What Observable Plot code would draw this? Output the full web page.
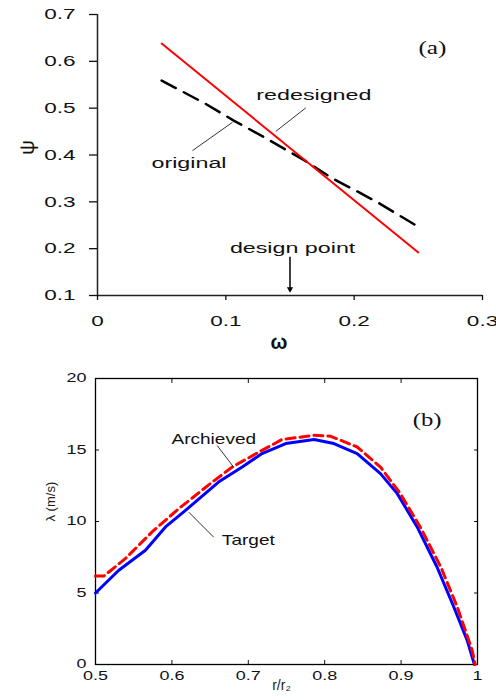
<!DOCTYPE html>
<html><head><meta charset="utf-8">
<script src="https://cdn.jsdelivr.net/npm/d3@7"></script>
<script src="https://cdn.jsdelivr.net/npm/@observablehq/plot@0.6"></script>
<style>
body{margin:0;background:#fff;}
#wrap{position:relative;width:496px;height:700px;overflow:hidden;background:#fff;}
#wrap svg{position:absolute;left:0;}
</style></head><body><div id="wrap"></div>
<script>
// ---------- Panel (a) data ----------
const omegaRedesigned = [0.05, 0.25];
const psiRedesigned = [0.638, 0.192];
const omegaOriginal = [0.05, 0.0844, 0.1065, 0.1298, 0.161, 0.1818, 0.2039, 0.2182, 0.2486];
const psiOriginal = [0.559, 0.509, 0.473, 0.438, 0.389, 0.352, 0.320, 0.299, 0.249];
const aXTicks = [0, 0.1, 0.2, 0.3];
const aYTicks = [0.1, 0.2, 0.3, 0.4, 0.5, 0.6, 0.7];
const aNotes = [
  {x: 0.1686, y: 0.527, text: "redesigned"},
  {x: 0.0713, y: 0.383, text: "original"},
  {x: 0.152, y: 0.2013, text: "design point"}
];
const aLeaders = [
  {x1: 0.1623, y1: 0.5006, x2: 0.139, y2: 0.4506},
  {x1: 0.1052, y1: 0.4698, x2: 0.074, y2: 0.4093}
];
const aArrow = [{x: 0.15, y1: 0.183, y2: 0.112, yHead: 0.1137}];
const aTag = [{x: 0.261, y: 0.627, text: "(a)"}];

// ---------- Panel (b) data ----------
const rTarget = [0.5, 0.5305, 0.5654, 0.5916, 0.6178, 0.661, 0.692, 0.718, 0.749, 0.786, 0.812, 0.8425, 0.873, 0.895, 0.921, 0.947, 0.969, 0.9865, 0.996];
const lambdaTarget = [5.0, 6.59, 7.99, 9.62, 10.78, 12.76, 13.81, 14.75, 15.45, 15.73, 15.45, 14.75, 13.35, 11.95, 9.62, 6.82, 4.02, 1.69, 0];
const rAchieved = [0.5, 0.511, 0.539, 0.574, 0.609, 0.653, 0.679, 0.714, 0.744, 0.786, 0.808, 0.8425, 0.873, 0.899, 0.925, 0.952, 0.9735, 0.993, 0.997];
const lambdaAchieved = [6.19, 6.19, 7.4, 9.27, 10.9, 12.76, 13.81, 14.86, 15.73, 16.03, 15.96, 15.21, 13.81, 11.95, 9.62, 6.82, 4.02, 1.0, 0];
const bXTicks = [0.5, 0.6, 0.7, 0.8, 0.9, 1];
const bYTicks = [0, 5, 10, 15, 20];
const bNotes = [
  {x: 0.6548, y: 15.75, text: "Archieved"},
  {x: 0.7, y: 8.65, text: "Target"}
];
const bLeaders = [
  {x1: 0.6593, y1: 15.31, x2: 0.681, y2: 13.79},
  {x1: 0.6548, y1: 8.90, x2: 0.6221, y2: 10.65}
];
const bTag = [{x: 0.934, y: 17.1, text: "(b)"}];

const sans = "'Liberation Sans', Arial, Helvetica, sans-serif";
const serif = "'Liberation Serif', 'Times New Roman', serif";
const plain = d => `${d}`;

const redData = omegaRedesigned.map((x, i) => ({x, y: psiRedesigned[i]}));
const origData = omegaOriginal.map((x, i) => ({x, y: psiOriginal[i]}));
const targetData = rTarget.map((x, i) => ({x, y: lambdaTarget[i]}));
const achievedData = rAchieved.map((x, i) => ({x, y: lambdaAchieved[i]}));

const svgA = Plot.plot({
  width: 496, height: 360,
  marginLeft: 97, marginRight: 14, marginTop: 14, marginBottom: 65,
  x: {domain: [0, 0.3]},
  y: {domain: [0.1, 0.7]},
  style: {fontFamily: sans, fontSize: "15px", background: "#fff", overflow: "visible", color: "#111"},
  marks: [
    Plot.ruleX([0], {stroke: "#222", strokeWidth: 1.5}),
    Plot.ruleY([0.1], {stroke: "#222", strokeWidth: 1.5}),
    Plot.axisX({ticks: aXTicks, tickFormat: plain, tickSize: 5, tickPadding: 15, fontSize: 15, label: null, strokeWidth: 1.3}),
    Plot.axisY({ticks: aYTicks, tickFormat: plain, tickSize: 8, tickPadding: 14, fontSize: 15, label: null, strokeWidth: 1.3}),
    Plot.line(origData, {x: "x", y: "y", stroke: "black", strokeWidth: 2.5, strokeDasharray: "16,9"}),
    Plot.line(redData, {x: "x", y: "y", stroke: "#ff0000", strokeWidth: 2}),
    Plot.link(aLeaders, {x1: "x1", y1: "y1", x2: "x2", y2: "y2", stroke: "black", strokeWidth: 0.8}),
    Plot.text(aNotes, {x: "x", y: "y", text: "text", fontSize: 15.5, fill: "#111", ariaDescription: "notes"}),
    Plot.link(aArrow, {x1: "x", x2: "x", y1: "y1", y2: "y2", stroke: "black", strokeWidth: 1.5}),
    Plot.dot(aArrow, {x: "x", y: "yHead", symbol: "triangle", rotate: 180, r: 2.3, fill: "black", stroke: "none"}),
    Plot.text(aTag, {x: "x", y: "y", text: "text", fontFamily: serif, fontSize: 18, ariaDescription: "tag"}),
    Plot.text(["ψ"], {text: d => d, frameAnchor: "left", dx: -70, rotate: -90, fontSize: 21}),
    Plot.text(["ω"], {text: d => d, frameAnchor: "bottom", dx: -11, dy: 53, fontSize: 20, fontWeight: "bold"})
  ]
});
svgA.style.top = "0px";

const svgB = Plot.plot({
  width: 496, height: 340,
  marginLeft: 95, marginRight: 19, marginTop: 18, marginBottom: 36,
  x: {domain: [0.5, 1]},
  y: {domain: [0, 20]},
  style: {fontFamily: sans, fontSize: "12px", background: "#fff", overflow: "visible", color: "#111"},
  marks: [
    // inward tick marks on all four sides
    Plot.axisX({ticks: bXTicks, tickSize: 4, dy: -4, fill: "none", label: null}),
    Plot.axisX({ticks: bXTicks, anchor: "top", tickSize: 4, dy: 4, fill: "none", label: null}),
    Plot.axisY({ticks: bYTicks, tickSize: 4, dx: 4, fill: "none", label: null}),
    Plot.axisY({ticks: bYTicks, anchor: "right", tickSize: 4, dx: -4, fill: "none", label: null}),
    Plot.axisX({ticks: bXTicks, tickFormat: plain, tickSize: 0, tickPadding: 7, fontSize: 12, label: null}),
    Plot.axisY({ticks: bYTicks, tickFormat: plain, tickSize: 0, tickPadding: 9, fontSize: 12, label: null}),
    Plot.frame({stroke: "black", strokeWidth: 1.3}),
    Plot.line(targetData, {x: "x", y: "y", stroke: "#0000ff", strokeWidth: 3}),
    Plot.line(achievedData, {x: "x", y: "y", stroke: "#ff0000", strokeWidth: 3, strokeDasharray: "9,5"}),
    Plot.link(bLeaders, {x1: "x1", y1: "y1", x2: "x2", y2: "y2", stroke: "black", strokeWidth: 0.8}),
    Plot.text(bNotes, {x: "x", y: "y", text: "text", fontSize: 14.3, fill: "#111", ariaDescription: "notes"}),
    Plot.text(bTag, {x: "x", y: "y", text: "text", fontFamily: serif, fontSize: 19, ariaDescription: "tag"}),
    Plot.text(["λ (m/s)"], {text: d => d, frameAnchor: "left", dx: -45, rotate: -90, fontSize: 13, fill: "#222"}),
    Plot.text(["r/r₂"], {text: d => d, frameAnchor: "bottom", dx: -5, dy: 25, fontSize: 14, fill: "#222"})
  ]
});
svgB.style.top = "360px";

const wrap = document.getElementById("wrap");
wrap.appendChild(svgA);
wrap.appendChild(svgB);

function stretchTexts(texts, k) {
  texts.forEach(t => {
    const w = t.getComputedTextLength();
    if (w > 0) {
      t.setAttribute("textLength", (w * k).toFixed(1));
      t.setAttribute("lengthAdjust", "spacingAndGlyphs");
    }
  });
}
function stretchAxis(svg, label, k) {
  stretchTexts(svg.querySelectorAll(`g[aria-label="${label}"] text`), k);
}
function stretchMark(svg, desc, k) {
  stretchTexts(svg.querySelectorAll(`g[aria-description="${desc}"] text`), k);
}
stretchAxis(svgA, "x-axis tick label", 1.5);
stretchAxis(svgA, "y-axis tick label", 1.5);
stretchMark(svgA, "notes", 1.5);
stretchMark(svgA, "tag", 1.4);
stretchAxis(svgB, "x-axis tick label", 1.5);
stretchAxis(svgB, "y-axis tick label", 1.5);
stretchMark(svgB, "notes", 1.33);
stretchMark(svgB, "tag", 1.3);
</script>
</body></html>
